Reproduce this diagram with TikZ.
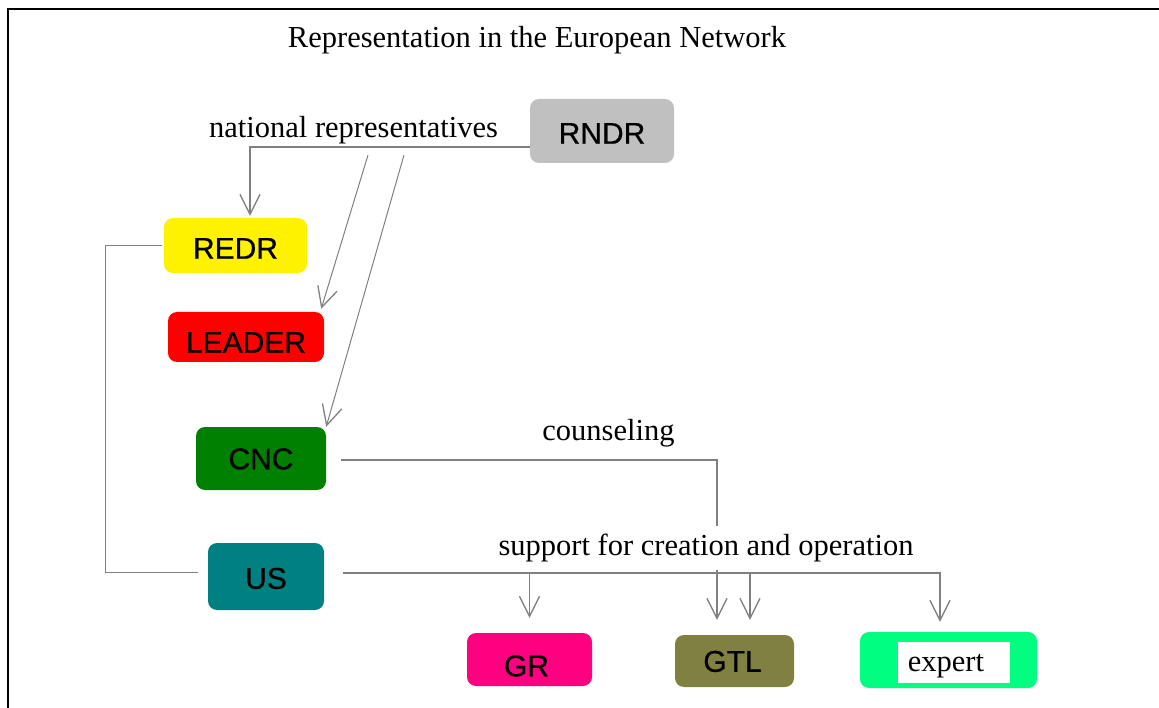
\documentclass[tikz,border=0pt]{standalone}
\usepackage{fontspec}
\setmainfont{Liberation Serif}
\setsansfont{Liberation Sans}
\newfontfamily\boxfont[FakeBold=0.6]{Liberation Sans}
\usetikzlibrary{arrows.meta}
\definecolor{cgray}{HTML}{808080}
\definecolor{rndrgray}{HTML}{C0C0C0}
\definecolor{cncgreen}{HTML}{008000}
\definecolor{usteal}{HTML}{008080}
\definecolor{grpink}{HTML}{FF0080}
\definecolor{gtlolive}{HTML}{808040}
\definecolor{expgreen}{HTML}{00FF80}
\begin{document}
\begin{tikzpicture}[x=1pt,y=-1pt,
  box/.style={rounded corners=9pt, inner sep=0pt, text depth=0pt, text height=21.5pt,
    font=\boxfont\fontsize{30}{36}\selectfont},
  tdown/.style={text height=21.5pt+2*#1},
  lbl/.style={font=\fontsize{30.5}{36}\selectfont, inner sep=1pt},
  conn/.style={draw=cgray, line width=1.3pt},
  arr/.style={conn, -{Straight Barb[length=20pt,width=20pt,line width=1.3pt]}}]
\useasboundingbox (0,0) rectangle (1159,708);
\draw[line width=2pt] (8,708) -- (8,9) -- (1159,9);

% nodes
\node[box, tdown=2pt, fill=rndrgray, minimum width=144pt, minimum height=64pt] (rndr) at (602,131) {RNDR};
\node[box, tdown=2.5pt, fill=yellow, minimum width=143pt, minimum height=55pt] (redr) at (235.5,245.5) {REDR};
\node[box, tdown=5pt, fill=red, minimum width=156pt, minimum height=50pt] (leader) at (246,337) {LEADER};
\node[box, fill=cncgreen, minimum width=130pt, minimum height=63pt] (cnc) at (261,458.5) {CNC};
\node[box, tdown=1.5pt, fill=usteal, minimum width=116pt, minimum height=67pt] (us) at (266,576.5) {US};
\node[box, tdown=6pt, fill=grpink, minimum width=125pt, minimum height=53pt] (gr) at (529.5,659.5) {\kern-6pt GR};
\node[box, fill=gtlolive, minimum width=119pt, minimum height=52pt] (gtl) at (734.5,661) {\kern-4pt GTL};
\node[box, fill=expgreen, minimum width=177pt, minimum height=56pt] (expert) at (948.5,660) {};
\node[fill=white, minimum width=112pt, minimum height=41pt, inner sep=0pt, text height=24pt, text depth=6.6pt,
  font=\fontsize{30.5}{36}\selectfont] (experttext) at (954,662.5) {\kern-16pt expert};

% labels
\node[lbl] (title) at (537,40) {Representation in the European Network};
\node[lbl] (natrep) at (353.5,130) {national representatives};
\node[lbl] (couns) at (608.5,433) {counseling};

% connectors
\draw[arr, shorten >=2pt] ([yshift=-16pt]rndr.west) -| ([xshift=14.5pt]redr.north);
\coordinate (d1) at (368,155);
\coordinate (d2) at (404,155);
\draw[arr, line width=1pt] (d1) -- ([xshift=-3pt,yshift=3pt]leader.north east);
\draw[arr, line width=1pt] (d2) -- (cnc.north east);
\draw[conn] ([xshift=-2pt]redr.west) -- ++(-56,0) |- ([xshift=-10pt,yshift=4pt]us.west);
\draw[arr, shorten >=15pt] ([xshift=15pt,yshift=-1.5pt]cnc.east) -| ([xshift=-17.5pt]gtl.north);
\coordinate (usline) at ([xshift=19pt,yshift=3.5pt]us.east);
\coordinate (gtlin) at ([xshift=15.5pt]gtl.north);
\draw[arr, shorten >=10pt] (usline) -| ([xshift=-8.5pt]expert.north);
\draw[arr, shorten >=15pt] (usline -| gr.north) -- (gr.north);
\draw[arr, shorten >=15pt] (usline -| gtlin) -- (gtlin);

\node[lbl, fill=white, inner xsep=2pt, inner ysep=8pt] (support) at (706,548) {support for creation and operation};
\end{tikzpicture}
\end{document}
